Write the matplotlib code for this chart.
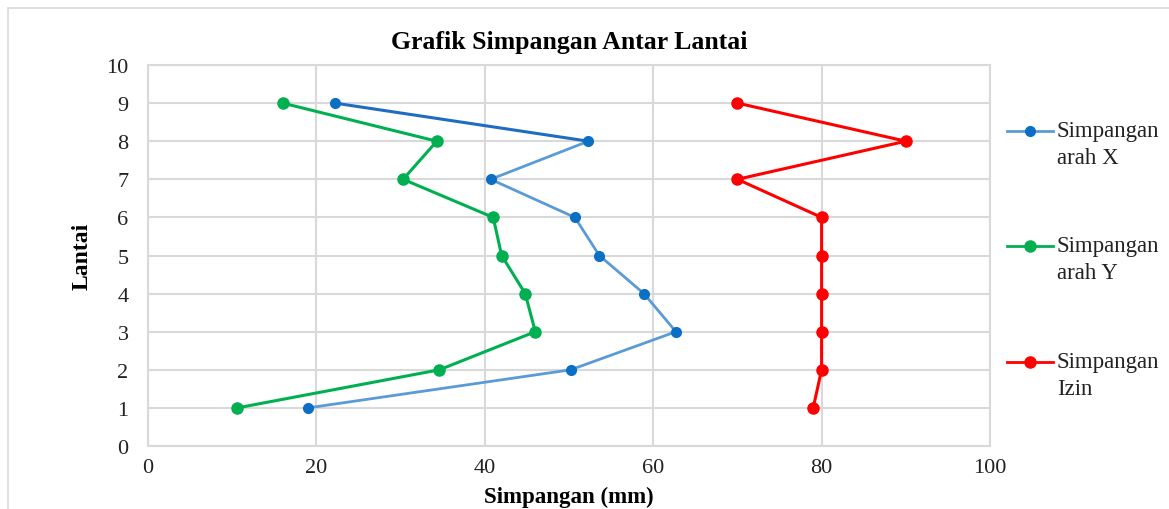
import matplotlib.pyplot as plt
from matplotlib.lines import Line2D
from matplotlib.patches import Rectangle

# data
lantai = [1, 2, 3, 4, 5, 6, 7, 8, 9]
simpangan_x = [19.0, 50.2, 62.7, 58.9, 53.6, 50.7, 40.7, 52.3, 22.2]
simpangan_y = [10.6, 34.6, 46.0, 44.8, 42.0, 41.0, 30.3, 34.3, 16.0]
simpangan_izin = [79.0, 80, 80, 80, 80, 80, 70, 90, 70]
labels = ["Simpangan\narah X", "Simpangan\narah Y", "Simpangan\nIzin"]

plt.rcParams['font.family'] = ['Liberation Serif', 'DejaVu Serif']

W, H = 1169, 510
fig = plt.figure(figsize=(W / 100, H / 100), dpi=100)
ax = fig.add_axes([148 / W, 1 - 447 / H, (990 - 148) / W, (447 - 66) / H])

# outer chart border
fig.patches.append(Rectangle((8 / W, -0.05), 1.1, 1 + 0.05 - 9 / H, transform=fig.transFigure,
                             fill=False, edgecolor='#d9d9d9', linewidth=1.2))

c_x = '#5b9bd5'
c_xm = '#0b6fc4'
c_y = '#00b050'
c_r = '#ff0000'

ax.plot(simpangan_x[:-1], lantai[:-1], color=c_x, lw=2, zorder=3)
ax.plot(simpangan_x[-2:], lantai[-2:], color='#1f6cc0', lw=2.2, zorder=3)
ax.plot(simpangan_x, lantai, ls='none', marker='o', ms=7, color=c_xm, zorder=4)
ax.plot(simpangan_y, lantai, color=c_y, lw=2.2, marker='o', ms=8, zorder=3)
ax.plot(simpangan_izin, lantai, color=c_r, lw=2.2, marker='o', ms=8, zorder=3)

ax.set_xlim(0, 100)
ax.set_ylim(0, 10)
ax.set_xticks(range(0, 101, 20))
ax.set_yticks(range(0, 11))
ax.grid(True, color='#d9d9d9', lw=1.5)
ax.set_axisbelow(True)
for s in ax.spines.values():
    s.set_color('#d9d9d9')
    s.set_linewidth(1.5)
ax.tick_params(length=0, labelsize=16)
ax.tick_params(axis='y', pad=14)
ax.tick_params(axis='x', pad=9)
for t in ax.get_xticklabels() + ax.get_yticklabels():
    t.set_color('#222222')

ax.set_title("Grafik Simpangan Antar Lantai", fontsize=18.5, fontweight='bold', pad=12)
ax.set_xlabel("Simpangan (mm)", fontsize=16.5, fontweight='bold', labelpad=6)
ax.set_ylabel("Lantai", fontsize=17, fontweight='bold', labelpad=10)

# legend drawn by hand so the marker sits on the first text line
leg_y = [132, 247, 363]
leg_style = [dict(color=c_x, mfc=c_xm, mec=c_xm, ms=7),
             dict(color=c_y, mfc=c_y, mec=c_y, ms=8),
             dict(color=c_r, mfc=c_r, mec=c_r, ms=8)]
for yy, lab, st in zip(leg_y, labels, leg_style):
    fy = 1 - yy / H
    fig.add_artist(Line2D([1007 / W, 1030 / W, 1053 / W], [fy, fy, fy], lw=2, marker='o',
                          markevery=[1], transform=fig.transFigure, **st))
    fig.text(1057 / W, fy + 11 / H, lab, fontsize=16.5, va='top', ha='left',
             color='#222222', linespacing=1.35)

fig.savefig("out.png", dpi=100)
